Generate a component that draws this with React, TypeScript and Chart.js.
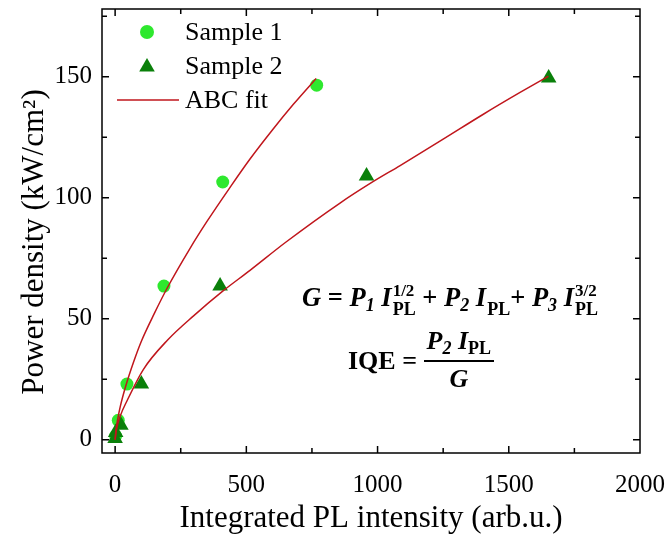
import React, { useEffect, useRef } from "react";
import { Chart, registerables } from "chart.js";

Chart.register(...registerables);

// ---- data ----
const sample1X = [2, 12, 45, 186, 410, 768];
const sample1Y = [1.5, 8, 23, 63.5, 106.5, 146.5];

const sample2X = [0, 2, 22, 100, 400, 958, 1652];
const sample2Y = [0.5, 3, 6, 23, 63.5, 109, 149.5];

const fit1X = [0, 3, 10, 20, 40, 70, 100, 150, 200, 285, 350, 438, 514, 600, 680, 766];
const fit1Y = [0, 4, 8.6, 13.9, 22, 32, 40.7, 52.3, 63, 79, 90.2, 104.3, 116, 128.1, 138.7, 149.3];

const fit2X = [0, 5, 20, 45, 108, 200, 300, 410, 514, 650, 857, 978, 1086, 1250, 1400, 1543, 1651];
const fit2Y = [0, 4, 9.9, 16, 29.1, 41.2, 51.3, 61.4, 70, 81.6, 97.8, 106.3, 113.3, 124.2, 134.3, 143.5, 150.2];

const xMajorTicks = [0, 500, 1000, 1500, 2000];
const xMinorTicks = [250, 750, 1250, 1750];
const yMajorTicks = [0, 50, 100, 150];
const yMinorTicks = [25, 75, 125, 175];

const seriesLabels = ["Sample 1", "Sample 2", "ABC fit"];
const xTitle = "Integrated PL intensity (arb.u.)";
const yTitle = "Power density (kW/cm\u00B2)";

const FONT = "'Liberation Serif', 'Times New Roman', serif";
const C1 = "#2ee82e";
const C2 = "#0a800a";
const CFIT = "#c0161c";

const toPts = (xs: number[], ys: number[]) => xs.map((x, i) => ({ x, y: ys[i] }));

const framePlugin = {
  id: "frameTicks",
  afterDatasetsDraw(chart: any) {
    const { ctx, chartArea, scales } = chart;
    const { left, right, top, bottom } = chartArea;
    const x = scales.x;
    const y = scales.y;
    ctx.save();
    ctx.strokeStyle = "#000";
    ctx.lineWidth = 1.5;
    ctx.strokeRect(left, top, right - left, bottom - top);
    const drawX = (vals: number[], len: number) => {
      vals.forEach((v) => {
        const px = x.getPixelForValue(v);
        if (px < left + 2 || px > right - 2) return;
        ctx.beginPath();
        ctx.moveTo(px, bottom);
        ctx.lineTo(px, bottom - len);
        ctx.moveTo(px, top);
        ctx.lineTo(px, top + len);
        ctx.stroke();
      });
    };
    const drawY = (vals: number[], len: number) => {
      vals.forEach((v) => {
        const py = y.getPixelForValue(v);
        if (py < top + 3 || py > bottom - 2) return;
        ctx.beginPath();
        ctx.moveTo(left, py);
        ctx.lineTo(left + len, py);
        ctx.moveTo(right, py);
        ctx.lineTo(right - len, py);
        ctx.stroke();
      });
    };
    drawX(xMajorTicks, 7);
    drawX(xMinorTicks, 5);
    drawY(yMajorTicks, 7);
    drawY(yMinorTicks, 5);

    // legend (top-left inside plot)
    ctx.font = `26px ${FONT}`;
    ctx.textAlign = "left";
    ctx.textBaseline = "middle";
    const lx = left + 45;
    const tx = left + 83;
    const rows = [top + 23, top + 57, top + 91];
    ctx.beginPath();
    ctx.fillStyle = C1;
    ctx.arc(lx, rows[0], 7, 0, Math.PI * 2);
    ctx.fill();
    const r = 9;
    ctx.beginPath();
    ctx.fillStyle = C2;
    const cy = rows[1] + 1;
    ctx.moveTo(lx, cy - r);
    ctx.lineTo(lx + r * Math.sin((2 * Math.PI) / 3), cy - r * Math.cos((2 * Math.PI) / 3));
    ctx.lineTo(lx + r * Math.sin((4 * Math.PI) / 3), cy - r * Math.cos((4 * Math.PI) / 3));
    ctx.closePath();
    ctx.fill();
    ctx.beginPath();
    ctx.strokeStyle = CFIT;
    ctx.lineWidth = 1.5;
    ctx.moveTo(left + 15, rows[2]);
    ctx.lineTo(left + 77, rows[2]);
    ctx.stroke();
    ctx.fillStyle = "#000";
    seriesLabels.forEach((t, i) => ctx.fillText(t, tx, rows[i] + 1));

    // y axis title (rotated)
    ctx.save();
    ctx.translate(35, (top + bottom) / 2 + 11);
    ctx.rotate(-Math.PI / 2);
    ctx.font = `31px ${FONT}`;
    ctx.textAlign = "center";
    ctx.textBaseline = "middle";
    ctx.fillText(yTitle, 0, 0);
    ctx.restore();
    ctx.restore();
  },
};

const sub: React.CSSProperties = { fontSize: 18, fontStyle: "italic", verticalAlign: "-0.3em", lineHeight: 0 };

function IPL({ sup }: { sup?: string }) {
  return (
    <>
      <i>I</i>
      <span
        style={{
          display: "inline-flex",
          flexDirection: "column",
          verticalAlign: "middle",
          lineHeight: 1,
          fontSize: 18,
          marginLeft: 1,
        }}
      >
        <span style={{ height: 18, fontSize: 17 }}>{sup || "\u00A0"}</span>
        <span>PL</span>
      </span>
    </>
  );
}

export default function App() {
  const ref = useRef<HTMLCanvasElement | null>(null);
  useEffect(() => {
    if (!ref.current) return;
    const chart = new Chart(ref.current, {
      type: "scatter",
      data: {
        datasets: [
          {
            type: "line",
            label: seriesLabels[2] + " 1",
            data: toPts(fit1X, fit1Y),
            borderColor: CFIT,
            borderWidth: 1.5,
            pointRadius: 0,
            cubicInterpolationMode: "monotone",
            fill: false,
            order: 0,
          } as any,
          {
            type: "line",
            label: seriesLabels[2] + " 2",
            data: toPts(fit2X, fit2Y),
            borderColor: CFIT,
            borderWidth: 1.5,
            pointRadius: 0,
            cubicInterpolationMode: "monotone",
            fill: false,
            order: 0,
          } as any,
          {
            label: seriesLabels[0],
            data: toPts(sample1X, sample1Y),
            pointStyle: "circle",
            pointRadius: 6.5,
            backgroundColor: C1,
            borderWidth: 0,
            order: 2,
          },
          {
            label: seriesLabels[1],
            data: toPts(sample2X, sample2Y),
            pointStyle: "triangle",
            pointRadius: 9,
            backgroundColor: C2,
            borderWidth: 0,
            order: 1,
          },
        ],
      },
      options: {
        animation: false,
        responsive: false,
        devicePixelRatio: 1,
        layout: { padding: { left: 0, right: 28, top: 9, bottom: 0 } },
        plugins: { legend: { display: false }, tooltip: { enabled: false } },
        scales: {
          x: {
            type: "linear",
            min: -50,
            max: 2000,
            grid: { display: false, drawTicks: false },
            border: { display: false },
            afterBuildTicks: (s: any) => {
              s.ticks = xMajorTicks.map((v) => ({ value: v }));
            },
            afterFit: (s: any) => {
              s.height = 85;
              s.paddingLeft = 0;
              s.paddingRight = 0;
            },
            ticks: {
              font: { family: FONT, size: 25 },
              color: "#000",
              padding: 17,
              maxRotation: 0,
              callback: (v: any) => String(v),
            },
            title: {
              display: true,
              text: xTitle,
              font: { family: FONT, size: 31 },
              color: "#000",
              padding: { top: 0, bottom: 1 },
            },
          },
          y: {
            type: "linear",
            min: -5.5,
            max: 178,
            grid: { display: false, drawTicks: false },
            border: { display: false },
            afterBuildTicks: (s: any) => {
              s.ticks = yMajorTicks.map((v) => ({ value: v }));
            },
            afterFit: (s: any) => {
              s.width = 102;
              s.paddingTop = 0;
              s.paddingBottom = 0;
            },
            ticks: {
              font: { family: FONT, size: 25 },
              color: "#000",
              padding: 10,
              callback: (v: any) => String(v),
            },
            title: { display: false },
          },
        },
      },
      plugins: [framePlugin],
    });
    return () => chart.destroy();
  }, []);

  const formulaBase: React.CSSProperties = {
    position: "absolute",
    fontFamily: FONT,
    fontWeight: "bold",
    fontSize: 26,
    color: "#000",
    whiteSpace: "nowrap",
    lineHeight: "30px",
  };

  return (
    <div style={{ position: "absolute", left: 0, top: 0, width: 668, height: 538, background: "#fff" }}>
      <canvas ref={ref} width={668} height={538} style={{ display: "block", width: 668, height: 538 }} />
      <div style={{ ...formulaBase, left: 302, top: 282, fontSize: 26.5 }}>
        <i>G</i> = <i>P</i>
        <span style={sub}>1</span> <IPL sup="1/2" /> + <i>P</i>
        <span style={sub}>2</span> <IPL />+ <i>P</i>
        <span style={sub}>3</span> <IPL sup="3/2" />
      </div>
      <div style={{ ...formulaBase, left: 348, top: 329 }}>
        IQE ={" "}
        <span
          style={{
            display: "inline-flex",
            flexDirection: "column",
            alignItems: "center",
            verticalAlign: "middle",
            position: "relative",
            top: -2,
          }}
        >
          <span style={{ borderBottom: "2px solid #000", padding: "0 3px 5px", lineHeight: "28px" }}>
            <i>P</i>
            <span style={sub}>2</span> <i>I</i>
            <span style={{ ...sub, fontStyle: "normal" }}>PL</span>
          </span>
          <span style={{ lineHeight: "33px" }}>
            <i>G</i>
          </span>
        </span>
      </div>
    </div>
  );
}
